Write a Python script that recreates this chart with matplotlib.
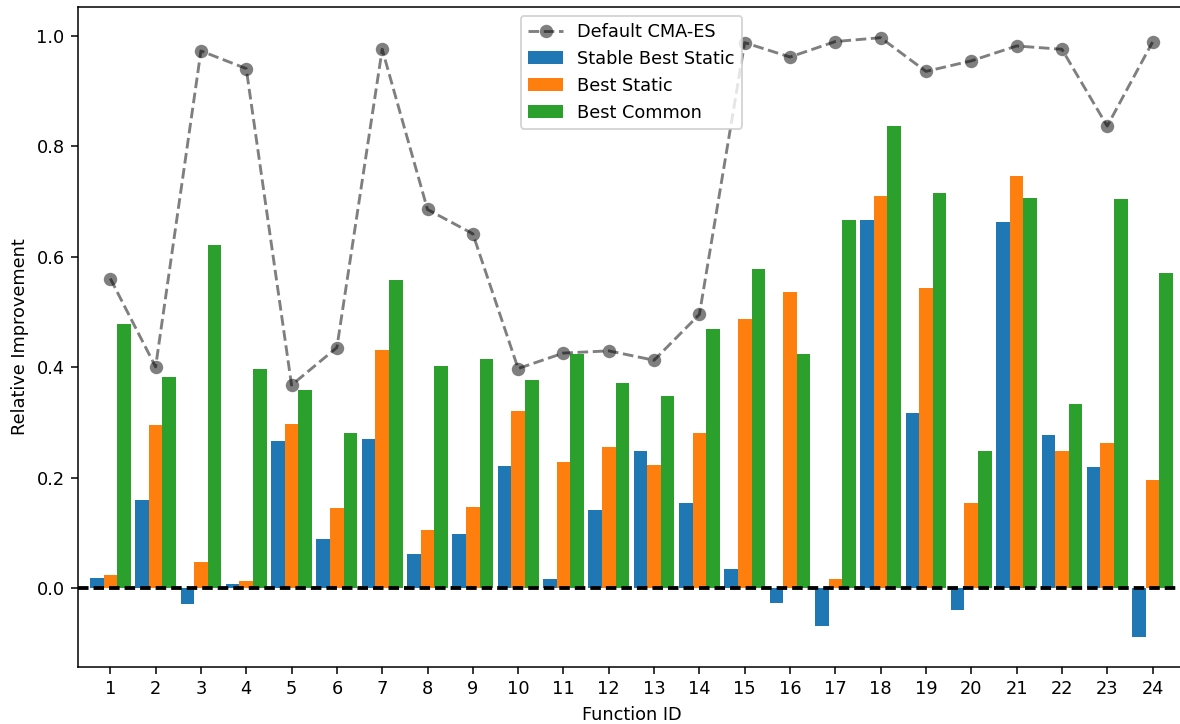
import matplotlib
matplotlib.use('Agg')
import matplotlib.pyplot as plt
import numpy as np

plt.rcParams['font.size'] = 9.25

# Relative improvement per BBOB function
function_ids = list(range(1, 25))

default_cmaes = [0.561, 0.401, 0.973, 0.941, 0.368, 0.436, 0.976, 0.686,
                 0.642, 0.398, 0.426, 0.430, 0.413, 0.496, 0.988, 0.962,
                 0.990, 0.997, 0.936, 0.955, 0.982, 0.976, 0.837, 0.989]

stable_best_static = [0.019, 0.160, -0.028, 0.008, 0.267, 0.089, 0.270, 0.062,
                      0.098, 0.221, 0.017, 0.142, 0.249, 0.154, 0.035, -0.026,
                      -0.068, 0.667, 0.317, -0.039, 0.663, 0.277, 0.220, -0.088]

best_static = [0.024, 0.296, 0.048, 0.014, 0.298, 0.146, 0.431, 0.106,
               0.147, 0.321, 0.229, 0.256, 0.223, 0.281, 0.488, 0.536,
               0.017, 0.710, 0.544, 0.154, 0.746, 0.249, 0.263, 0.196]

best_common = [0.479, 0.382, 0.621, 0.397, 0.359, 0.281, 0.558, 0.402,
               0.415, 0.377, 0.425, 0.372, 0.348, 0.469, 0.578, 0.424,
               0.667, 0.838, 0.715, 0.249, 0.706, 0.334, 0.705, 0.571]

x = np.array(function_ids)
width = 0.3

fig = plt.figure(figsize=(1180 / 138, 724 / 138), dpi=138)
ax = fig.add_axes([0.0661, 0.0787, 0.938, 0.9116])

ax.plot(x, default_cmaes, 'o--', color='k', alpha=0.5, markersize=7,
        markeredgewidth=0, label='Default CMA-ES', zorder=3)
ax.bar(x - width, stable_best_static, width, label='Stable Best Static')
ax.bar(x, best_static, width, label='Best Static')
ax.bar(x + width, best_common, width, label='Best Common')
# zero baseline
ax.axhline(0, color='k', linewidth=2, linestyle=(0, (2.75, 1.3)))

ax.set_xticks(x)
ax.set_xticklabels([str(i) for i in function_ids])
ax.set_xlim(0.287, 24.713)
ax.set_ylim(-0.1424, 1.0525)
ax.set_xlabel('Function ID')
ax.set_ylabel('Relative Improvement')
ax.legend(loc='upper center')

fig.savefig('out.png', dpi=138)
